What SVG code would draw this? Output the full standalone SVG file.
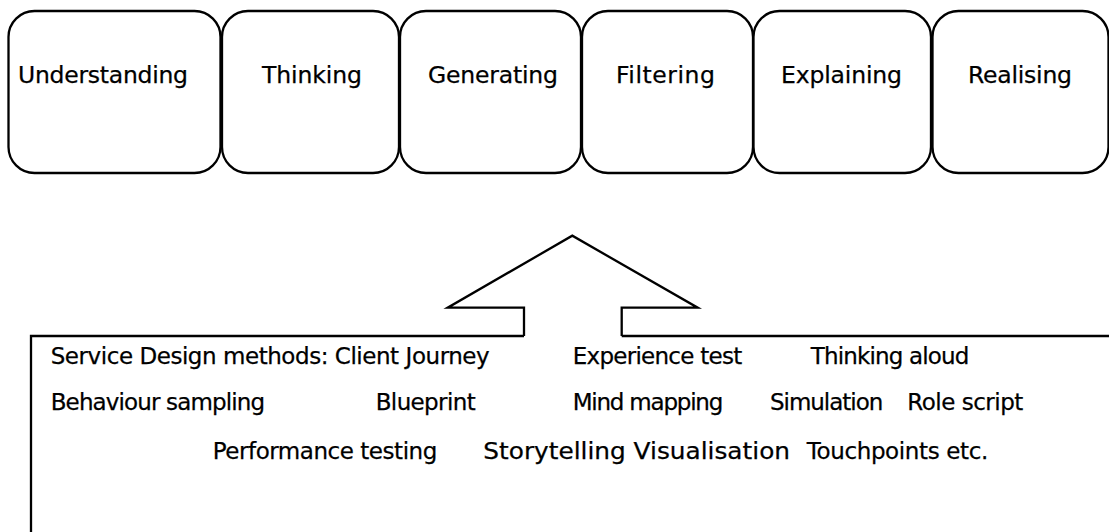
<svg xmlns="http://www.w3.org/2000/svg" width="1109" height="532" viewBox="0 0 1109 532">
<style>
.box{fill:#fff;stroke:#000;stroke-width:2.3}
.ln{fill:none;stroke:#000;stroke-width:2.3}
.arrow{fill:#fff;stroke:#000;stroke-width:2.3;stroke-linejoin:miter}
.lbl{font-family:"DejaVu Sans","Liberation Sans",sans-serif;font-size:23.5px;fill:#000;stroke:#000;stroke-width:0.25;text-anchor:middle}
.txt{font-family:"DejaVu Sans","Liberation Sans",sans-serif;font-size:23px;fill:#000;stroke:#000;stroke-width:0.25}
</style>
<rect width="1109" height="532" fill="#fff"/>
<g id="node-understanding"><rect class="box" x="8.5" y="11" width="212" height="162" rx="26" ry="26"/><text class="lbl" x="103" y="82.5" textLength="170" lengthAdjust="spacing">Understanding</text></g>
<g id="node-thinking"><rect class="box" x="222" y="11" width="177" height="162" rx="26" ry="26"/><text class="lbl" x="312" y="82.5" textLength="100" lengthAdjust="spacing">Thinking</text></g>
<g id="node-generating"><rect class="box" x="400" y="11" width="181" height="162" rx="26" ry="26"/><text class="lbl" x="493" y="82.5" textLength="130" lengthAdjust="spacing">Generating</text></g>
<g id="node-filtering"><rect class="box" x="582" y="11" width="171" height="162" rx="26" ry="26"/><text class="lbl" x="665.5" y="82.5" textLength="99" lengthAdjust="spacing">Filtering</text></g>
<g id="node-explaining"><rect class="box" x="753.5" y="11" width="177.5" height="162" rx="26" ry="26"/><text class="lbl" x="841.5" y="82.5" textLength="121" lengthAdjust="spacing">Explaining</text></g>
<g id="node-realising"><rect class="box" x="932.5" y="11" width="176" height="162" rx="26" ry="26"/><text class="lbl" x="1020" y="82.5" textLength="104" lengthAdjust="spacing">Realising</text></g>
<g id="connectors">
<polyline class="arrow" points="524,336 524,307.7 447.7,307.7 572.3,235.7 697.7,307.7 621.7,307.7 621.7,336"/>
<polyline class="ln" points="524,336 31,336 31,540"/>
<line class="ln" x1="621.7" y1="336" x2="1112" y2="336"/>
</g>
<g id="node-methods">
<text class="txt" x="50.7" y="363.5" textLength="439" lengthAdjust="spacing">Service Design methods: Client Journey</text>
<text class="txt" x="572.7" y="363.5" textLength="169.6" lengthAdjust="spacing">Experience test</text>
<text class="txt" x="810.7" y="363.5" textLength="158.6" lengthAdjust="spacing">Thinking aloud</text>
<text class="txt" x="50.7" y="410" textLength="214.3" lengthAdjust="spacing">Behaviour sampling</text>
<text class="txt" x="375.7" y="410" textLength="100" lengthAdjust="spacing">Blueprint</text>
<text class="txt" x="572.7" y="410" textLength="150.6" lengthAdjust="spacing">Mind mapping</text>
<text class="txt" x="770" y="410" textLength="113.3" lengthAdjust="spacing">Simulation</text>
<text class="txt" x="907.3" y="410" textLength="116" lengthAdjust="spacing">Role script</text>
<text class="txt" x="212.7" y="459.3" textLength="224.6" lengthAdjust="spacing">Performance testing</text>
<text class="txt" x="483.3" y="459.3" textLength="306.7" lengthAdjust="spacingAndGlyphs">Storytelling Visualisation</text>
<text class="txt" x="806.7" y="459.3" textLength="181.6" lengthAdjust="spacing">Touchpoints etc.</text>
</g>
</svg>
